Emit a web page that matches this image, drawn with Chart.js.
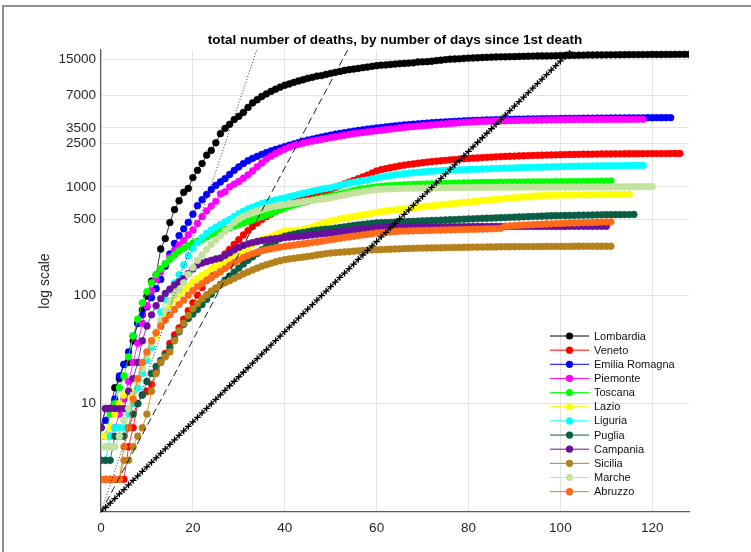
<!DOCTYPE html>
<html>
<head>
<meta charset="utf-8">
<script src="https://cdn.jsdelivr.net/npm/chart.js@4.4.0/dist/chart.umd.min.js"></script>
<style>
html, body { margin: 0; padding: 0; background: #fff; }
#wrap { position: relative; width: 751px; height: 552px; overflow: hidden; }
#frame { position: absolute; left: 2px; top: 5px; right: -5px; bottom: -5px; border-left: 2px solid #8e8e8e; border-top: 2px solid #8e8e8e; pointer-events: none; }
</style>
</head>
<body>
<div id="wrap">
  <canvas id="chartDeaths" width="751" height="552"></canvas>
  <div id="frame"></div>
</div>
<script>
// deaths per region, one value per day since the 1st death
const lombardia = [6,9,9,14,17,23,24,38,55,73,98,135,154,267,333,468,617,744,890,966,1218,1420,1640,1959,2168,2549,3095,3456,3776,4178,4474,4861,5402,5944,6360,6818,7199,7593,7960,8311,8656,8905,9202,9484,9722,10022,10238,10511,10621,10901,11142,11377,11608,11851,12050,12213,12376,12579,12740,12940,13106,13269,13325,13449,13575,13679,13772,13860,13938,14189,14231,14294,14404,14611,14745,14924,15054,15116,15185,15296,15411,15453,15519,15597,15662,15727,15784,15827,15840,15876,15896,15974,16012,16055,16079,16112,16131,16143,16172,16201,16249,16302,16317,16349,16374,16405,16448,16457,16475,16495,16504,16526,16530,16542,16567,16579,16590,16598,16605,16617,16627,16638,16640,16654,16666,16674,16686,16697,16707];
const veneto = [2,2,2,2,2,2,4,6,10,12,13,15,20,24,29,36,43,50,60,72,85,100,118,138,160,185,210,240,265,295,325,360,395,430,465,500,530,560,592,625,660,690,720,750,780,810,840,870,895,920,945,985,1025,1065,1105,1145,1190,1235,1280,1340,1400,1440,1470,1500,1530,1560,1585,1610,1630,1650,1670,1690,1710,1725,1740,1755,1770,1785,1800,1815,1830,1840,1850,1860,1870,1880,1890,1900,1908,1915,1922,1930,1936,1942,1948,1954,1960,1965,1970,1975,1980,1984,1988,1992,1995,1998,2001,2004,2007,2010,2012,2014,2016,2018,2020,2021,2022,2023,2024,2025,2026,2027,2028,2029,2030,2030,2031];
const emilia = [6,7,9,11,18,23,30,42,55,66,78,95,115,140,185,240,300,355,410,470,560,670,760,850,945,1030,1110,1190,1300,1420,1530,1640,1740,1830,1910,1990,2070,2140,2210,2280,2350,2420,2490,2560,2630,2700,2760,2820,2880,2940,3000,3060,3110,3160,3210,3260,3310,3360,3410,3450,3490,3530,3570,3610,3650,3690,3720,3750,3780,3810,3840,3870,3900,3925,3950,3975,4000,4020,4040,4060,4080,4095,4110,4125,4140,4155,4165,4175,4185,4195,4205,4212,4219,4226,4233,4240,4246,4252,4258,4264,4270,4275,4280,4285,4290,4294,4298,4302,4306,4310,4313,4316,4319,4322,4325,4328,4331,4334,4336,4338,4340,4342,4344,4345,4346];
const piemonte = [5,5,5,6,8,11,16,24,36,55,80,110,140,165,195,225,260,290,320,360,400,460,530,600,665,735,860,900,1000,1060,1120,1200,1290,1400,1530,1660,1800,1920,2030,2130,2230,2320,2400,2470,2530,2590,2640,2690,2740,2790,2840,2890,2940,2990,3040,3090,3130,3170,3210,3250,3290,3330,3370,3410,3450,3490,3530,3570,3600,3630,3660,3690,3720,3750,3780,3810,3840,3870,3900,3925,3950,3970,3990,4005,4020,4035,4050,4060,4070,4080,4090,4098,4106,4114,4122,4130,4136,4142,4148,4154,4160,4164,4168,4172,4175,4178,4180,4182,4184,4186,4187,4188,4189,4190,4190,4191,4192,4193,4194];
const toscana = [5,5,8,10,14,18,27,42,60,85,108,130,155,175,195,215,235,255,272,288,303,315,327,345,362,377,390,405,420,435,450,465,480,496,513,530,550,570,592,615,640,660,680,700,718,736,754,772,790,805,820,840,860,880,900,920,940,960,975,988,1000,1010,1018,1025,1032,1038,1043,1048,1052,1056,1060,1063,1066,1069,1072,1075,1078,1081,1084,1087,1090,1092,1094,1096,1098,1100,1101,1102,1103,1104,1105,1106,1107,1108,1109,1110,1111,1112,1113,1114,1115,1116,1117,1118,1119,1120,1121,1122,1124,1126,1128,1130];
const lazio = [5,5,6,8,10,12,12,13,16,20,26,33,42,53,66,80,92,102,112,122,132,142,152,162,175,185,195,205,218,232,246,262,278,294,310,325,337,348,365,378,390,393,396,399,404,414,426,440,455,470,482,494,505,515,524,533,542,551,560,570,580,590,598,605,612,619,626,633,640,647,654,661,668,675,682,689,696,703,710,717,724,731,738,745,752,759,766,773,780,787,794,800,806,812,818,824,830,834,836,838,840,841,842,843,844,845,846,847,848,849,850,850,851,851,852,852];
const liguria = [3,3,5,6,6,6,8,10,14,19,25,33,45,70,92,112,130,155,190,230,270,305,340,372,400,425,450,475,500,535,565,595,625,650,675,700,720,740,758,775,790,810,830,850,870,890,910,930,950,965,980,1005,1030,1055,1080,1100,1120,1140,1160,1185,1210,1230,1250,1270,1290,1305,1320,1335,1350,1362,1374,1386,1396,1404,1412,1420,1425,1430,1435,1440,1445,1450,1455,1460,1465,1470,1475,1480,1485,1490,1495,1500,1504,1508,1512,1516,1520,1524,1528,1532,1536,1540,1543,1546,1549,1552,1555,1558,1560,1562,1564,1566,1568,1570,1572,1574,1575,1576,1577];
const puglia = [3,3,3,5,5,5,6,8,10,12,16,19,22,25,28,33,39,46,54,61,67,74,82,92,102,114,126,138,150,163,178,194,210,226,242,262,280,298,315,333,350,358,366,373,380,386,392,398,403,407,410,416,422,428,434,440,445,450,455,460,465,467,469,471,473,475,477,479,481,483,485,487,489,491,493,495,497,499,501,503,505,507,509,511,513,515,517,519,521,523,525,527,529,531,533,535,537,539,541,542,543,544,545,546,547,548,549,550,551,552,553,553,554,554,555,555,556];
const campania = [6,9,9,9,9,9,13,17,24,38,52,66,80,93,104,114,124,133,142,158,175,190,198,204,210,216,220,232,246,262,276,288,298,306,313,319,324,329,333,337,340,343,346,349,352,356,360,364,368,372,375,380,385,390,395,400,404,408,412,416,420,421,422,423,424,425,425,426,426,427,427,428,428,429,429,429,430,430,430,430,430,431,431,431,431,431,431,431,431,431,431,431,431,431,431,431,431,431,431,431,431,431,432,432,432,432,432,432,432,432,432];
const sicilia = [2,2,2,2,2,3,3,4,5,6,8,13,19,24,27,30,38,47,55,65,75,84,93,101,109,117,124,130,136,143,150,157,164,171,178,185,191,197,203,208,213,216,219,222,225,228,231,235,238,242,245,247,249,251,253,255,257,259,261,262,263,264,265,266,267,268,269,270,271,272,272,273,273,274,274,275,275,276,276,277,277,278,278,278,279,279,279,280,280,280,280,281,281,281,281,281,282,282,282,282,282,282,282,283,283,283,283,283,283,283,283,283];
const marche = [4,4,4,4,5,7,9,12,16,21,28,36,46,58,72,88,100,112,130,155,180,210,235,265,295,325,355,390,430,470,505,535,560,582,602,620,636,651,664,676,686,697,708,719,729,739,749,759,769,779,790,808,826,843,860,876,891,905,918,932,945,950,954,958,962,965,968,970,972,974,975,976,977,978,979,980,981,982,983,984,985,986,987,988,989,990,990,991,991,992,992,993,993,994,994,995,995,996,996,997,997,997,998,998,998,999,999,999,1000,1000,1000,1001,1001,1001,1002,1002,1002,1003,1003,1003,1004];
const abruzzo = [2,2,2,2,2,4,6,11,17,24,30,38,45,52,59,66,74,82,90,100,110,120,128,136,145,155,165,176,188,200,212,223,233,242,250,257,263,268,273,278,282,286,290,294,298,302,306,310,315,320,325,330,335,340,345,350,355,360,365,370,375,378,381,384,387,390,391,392,393,394,395,396,397,398,399,400,401,402,403,404,405,406,407,408,409,410,412,414,432,436,439,442,444,446,448,450,452,454,456,458,460,462,464,465,466,467,469,470,472,473,475,476];

const regionNames = ['Lombardia','Veneto','Emilia Romagna','Piemonte','Toscana','Lazio','Liguria','Puglia','Campania','Sicilia','Marche','Abruzzo'];
const regionSeries = [lombardia, veneto, emilia, piemonte, toscana, lazio, liguria, puglia, campania, sicilia, marche, abruzzo];
const regionColors = ['#000000','#ff0000','#0000ff','#ff00ff','#00ff00','#ffff00','#00ffff','#0a5e46','#6a0f9e','#b5811c','#c2e29e','#ff6a1a'];

// reference growth lines: [day, deaths]
const dottedLine = [[0, 1], [33.9, 18300]];
const dashedLine = [[0, 1], [53.7, 18300]];
const crossLine = [1,1.10,1.21,1.33,1.47,1.61,1.78,1.96,2.15,2.37,2.61,2.87,3.16,3.47,3.82,4.20,4.63,5.09,5.61,6.17,6.79,7.47,8.22,9.05,9.96,10.96,12.06,13.27,14.61,16.08,17.70,19.47,21.43,23.6,25.96,28.6,31.4,34.6,38.1,41.9,46.1,50.8,55.9,61.5,67.7,74.5,82.0,90.2,99.3,109,120,132,146,160,176,194,214,235,259,285,313,345,379,418,459,506,557,613,674,742,817,899,989,1088,1198,1318,1451,1597,1757,1934,2128,2342,2578,2837,3122,3436,3781,4161,4580,5040,5547,6105,6718,7394,8137,8954,9854,10845,11935,13135,14454,15907,17507];

const xTicks = [0, 20, 40, 60, 80, 100, 120];
const yTicks = [10, 100, 500, 1000, 2500, 3500, 7000, 15000];

const FONT = '"Liberation Sans", Arial, Helvetica, sans-serif';
Chart.defaults.font.family = FONT;

function toPoints(values) {
    return values.map((v, i) => ({ x: i, y: v }));
}

const insideLegend = {
    id: 'insideLegend',
    afterDatasetsDraw(chart) {
        const ctx = chart.ctx;
        const area = chart.chartArea;
        const x0 = area.right - 139;
        const y0 = area.top + 286;
        ctx.save();
        ctx.font = '11px ' + FONT;
        ctx.textBaseline = 'middle';
        regionNames.forEach((name, i) => {
            const y = y0 + i * 14.15;
            ctx.strokeStyle = regionColors[i];
            ctx.lineWidth = 1;
            ctx.beginPath();
            ctx.moveTo(x0, y);
            ctx.lineTo(x0 + 39, y);
            ctx.stroke();
            ctx.fillStyle = regionColors[i];
            ctx.beginPath();
            ctx.arc(x0 + 19.5, y, 3.6, 0, Math.PI * 2);
            ctx.fill();
            ctx.fillStyle = '#111';
            ctx.fillText(name, x0 + 44, y + 0.5);
        });
        ctx.restore();
    }
};

function renderDeathsChart() {
    const ctx = document.getElementById('chartDeaths').getContext('2d');
    const n = regionSeries.length;

    const datasets = regionSeries.map((values, index) => {
        const color = regionColors[index];
        return {
            label: regionNames[index],
            data: toPoints(values),
            borderColor: color,
            backgroundColor: color,
            pointBackgroundColor: color,
            pointBorderColor: color,
            borderWidth: 0.8,
            pointRadius: 3.4,
            pointBorderWidth: 0.6,
            pointHoverRadius: 0,
            order: n + 5 - index
        };
    });

    datasets.push({
        label: 'dotted',
        data: dottedLine.map(p => ({ x: p[0], y: p[1] })),
        borderColor: '#000',
        borderWidth: 0.8,
        borderDash: [1, 2],
        pointRadius: 0,
        order: 2
    });
    datasets.push({
        label: 'dashed',
        data: dashedLine.map(p => ({ x: p[0], y: p[1] })),
        borderColor: '#000',
        borderWidth: 0.9,
        borderDash: [7, 4],
        pointRadius: 0,
        order: 1
    });
    datasets.push({
        label: 'crosses',
        data: toPoints(crossLine),
        borderColor: '#000',
        borderWidth: 1.2,
        pointStyle: 'cross',
        pointRadius: 3.4,
        pointBorderWidth: 1.3,
        pointBorderColor: '#000',
        pointHoverRadius: 0,
        order: 0
    });

    new Chart(ctx, {
        type: 'line',
        data: { datasets: datasets },
        options: {
            responsive: false,
            animation: false,
            events: [],
            layout: { padding: { left: 0, right: 62, top: 0, bottom: 0 } },
            plugins: {
                legend: { display: false },
                tooltip: { enabled: false },
                title: {
                    display: true,
                    fullSize: false,
                    text: 'total number of deaths, by number of days since 1st death',
                    color: '#000',
                    font: { size: 13.5, weight: 'bold' },
                    padding: { top: 32, bottom: 1.8 }
                }
            },
            scales: {
                x: {
                    type: 'linear',
                    min: 0,
                    max: 128,
                    afterBuildTicks: s => { s.ticks = xTicks.map(v => ({ value: v })); },
                    afterFit: s => { s.height = 40; },
                    ticks: { color: '#262626', font: { size: 13.5 }, padding: 8, maxRotation: 0, autoSkip: false },
                    grid: { color: '#e4e4e4', drawTicks: false },
                    border: { color: '#5c5c5c', width: 1.2 }
                },
                y: {
                    type: 'logarithmic',
                    min: 1,
                    max: 18300,
                    afterBuildTicks: s => { s.ticks = yTicks.map(v => ({ value: v })); },
                    afterFit: s => { s.width = 101; },
                    ticks: { color: '#262626', font: { size: 13.5 }, padding: 5, autoSkip: false, callback: v => String(v) },
                    grid: { color: '#e4e4e4', drawTicks: false },
                    border: { color: '#5c5c5c', width: 1.2 },
                    title: { display: true, text: 'log scale', color: '#262626', font: { size: 14 }, padding: { top: 37, bottom: 0 } }
                }
            }
        },
        plugins: [insideLegend]
    });
}

renderDeathsChart();
</script>
</body>
</html>
